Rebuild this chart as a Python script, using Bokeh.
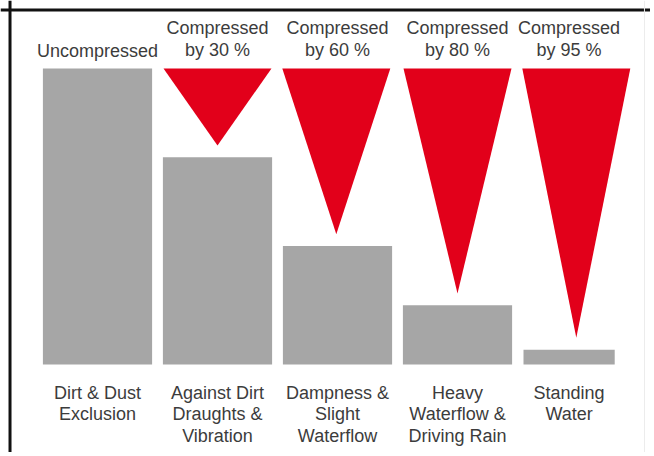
from bokeh.plotting import figure
from bokeh.models import ColumnDataSource, Span
from bokeh.core.properties import value
from bokeh.embed import file_html
from bokeh.resources import INLINE

# ---- data ----
categories = ["Dirt & Dust\nExclusion", "Against Dirt\nDraughts &\nVibration",
              "Dampness &\nSlight\nWaterflow", "Heavy\nWaterflow &\nDriving Rain",
              "Standing\nWater"]
top_labels = ["Uncompressed", "Compressed\nby 30 %", "Compressed\nby 60 %",
              "Compressed\nby 80 %", "Compressed\nby 95 %"]
remaining_height = [100, 70, 40, 20, 5]          # % of uncompressed height
triangle_depth = [0, 26, 56, 76, 91]            # depth of red wedge (% of full height)
bar_pos = [0, 1, 2, 3, 3.93]
bar_width = [0.91, 0.91, 0.91, 0.91, 0.76]
tri_pos = [0, 1, 1.99, 3.0, 3.99]
tri_width = 0.9

FONT = "Liberation Sans"
TXT = "#3c3c3c"
GRAY = "#a6a6a6"
RED = "#e2001a"

W, H = 650, 452
p = figure(width=W, height=H, output_backend="svg", toolbar_location=None,
           x_range=(-0.8083, 4.6083), y_range=(-29.73, 122.97),
           min_border=0, outline_line_color=None)
p.axis.visible = False
p.grid.visible = False
p.background_fill_color = "white"
p.border_fill_color = "white"

bars = ColumnDataSource(dict(x=bar_pos, top=remaining_height, w=bar_width))
p.vbar(x="x", top="top", bottom=0, width="w", source=bars,
       fill_color=GRAY, line_color=None)

xs, ys = [], []
for cx, d in zip(tri_pos, triangle_depth):
    if d > 0:
        xs.append([cx - tri_width / 2, cx + tri_width / 2, cx])
        ys.append([100, 100, 100 - d])
p.patches(xs, ys, fill_color=RED, line_color=None)

# top labels (bottom aligned)
p.text(x=bar_pos, y=[102.7] * 5, text=top_labels, text_align="center",
       text_baseline="bottom", text_font=value(FONT), text_font_size="18px",
       text_color=TXT, text_line_height=1.14)

# bottom labels (top aligned)
p.text(x=bar_pos, y=[-6.2] * 5, text=categories, text_align="center",
       text_baseline="top", text_font=value(FONT), text_font_size="18px",
       text_color=TXT, text_line_height=1.08)

# frame lines
p.add_layout(Span(location=-0.729, dimension="height", line_color="#111111", line_width=3))
p.add_layout(Span(location=119.76, dimension="width", line_color="#111111", line_width=3))
p.add_layout(Span(location=4.558, dimension="height", line_color="#ececec", line_width=1))

open("out.html", "w").write(file_html(p, INLINE))
